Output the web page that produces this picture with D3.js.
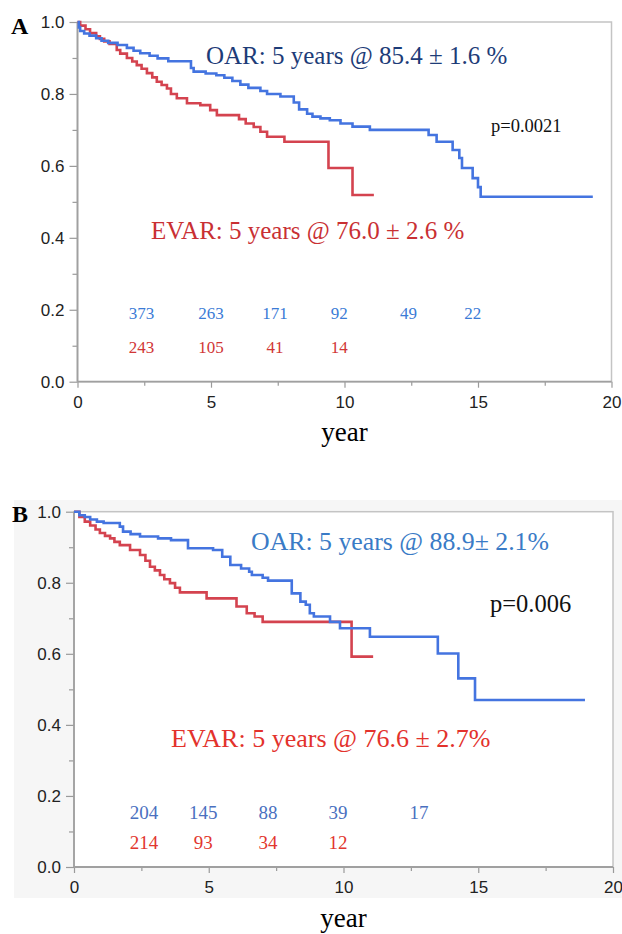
<!DOCTYPE html>
<html>
<head>
<meta charset="utf-8">
<script src="https://cdn.jsdelivr.net/npm/d3@7"></script>
<style>
  body { margin: 0; background: #fff; }
  svg { display: block; }
  .serif { font-family: "Liberation Serif", "Times New Roman", serif; }
</style>
</head>
<body>
<svg id="chart" width="622" height="934"></svg>
<script>
// survival step data: time in years, survival after each step
const oarA_time = [0, 0.05, 0.1, 0.25, 0.45, 0.7, 0.9, 1.15, 1.5, 1.85, 2.1, 2.35, 2.7, 3.0, 3.4, 4.25, 4.35, 4.8, 5.2, 5.5, 5.8, 6.1, 6.4, 6.85, 7.1, 7.6, 8.1, 8.3, 8.6, 8.8, 9.1, 9.45, 9.85, 10.3, 10.95, 13.15, 13.45, 14.05, 14.3, 14.4, 14.8, 15.0, 15.1, 19.3]
const oarA_surv = [1.0, 0.985, 0.975, 0.968, 0.962, 0.955, 0.948, 0.942, 0.936, 0.928, 0.92, 0.913, 0.906, 0.899, 0.891, 0.872, 0.862, 0.857, 0.852, 0.845, 0.836, 0.826, 0.817, 0.808, 0.8, 0.793, 0.776, 0.757, 0.745, 0.737, 0.732, 0.727, 0.718, 0.709, 0.70, 0.686, 0.667, 0.644, 0.622, 0.594, 0.566, 0.541, 0.514, 0.514]

const evarA_time = [0, 0.1, 0.3, 0.47, 0.7, 0.84, 1.0, 1.2, 1.47, 1.6, 1.85, 2.05, 2.22, 2.4, 2.6, 2.8, 2.97, 3.15, 3.35, 3.5, 3.72, 4.1, 4.6, 4.97, 5.22, 6.05, 6.3, 6.6, 6.85, 7.1, 7.75, 9.4, 10.3, 11.1]
const evarA_surv = [1.0, 0.99, 0.98, 0.969, 0.96, 0.953, 0.946, 0.939, 0.922, 0.912, 0.9, 0.89, 0.88, 0.87, 0.858, 0.846, 0.834, 0.825, 0.815, 0.8, 0.788, 0.774, 0.769, 0.755, 0.741, 0.73, 0.718, 0.708, 0.695, 0.681, 0.667, 0.594, 0.519, 0.519]

const oarB_time = [0, 0.2, 0.4, 0.6, 0.85, 1.1, 1.7, 1.82, 2.1, 2.45, 3.12, 3.6, 4.23, 5.16, 5.5, 5.8, 6.2, 6.5, 6.6, 7.0, 7.2, 8.08, 8.4, 8.6, 8.75, 8.9, 9.5, 9.87, 10.98, 13.5, 14.26, 14.88, 18.96]
const oarB_surv = [1.0, 0.99, 0.985, 0.978, 0.972, 0.968, 0.958, 0.944, 0.937, 0.93, 0.925, 0.92, 0.897, 0.892, 0.873, 0.85, 0.84, 0.831, 0.822, 0.814, 0.806, 0.77, 0.747, 0.738, 0.714, 0.705, 0.69, 0.672, 0.648, 0.601, 0.531, 0.47, 0.47]

const evarB_time = [0, 0.2, 0.4, 0.6, 0.8, 0.96, 1.15, 1.34, 1.5, 1.7, 2.08, 2.45, 2.65, 2.82, 3.0, 3.19, 3.35, 3.56, 3.75, 3.93, 4.92, 6.03, 6.41, 6.7, 7.0, 10.3, 11.1]
const evarB_surv = [1.0, 0.985, 0.972, 0.961, 0.95, 0.94, 0.932, 0.925, 0.915, 0.906, 0.892, 0.878, 0.862, 0.845, 0.835, 0.822, 0.81, 0.799, 0.786, 0.773, 0.756, 0.733, 0.714, 0.705, 0.69, 0.592, 0.592]

// numbers at risk and where they sit on the time axis
const riskA_time = [2.4, 5.0, 7.4, 9.8, 12.4, 14.8]
const riskA_oar = [373, 263, 171, 92, 49, 22]
const riskA_evar = [243, 105, 41, 14]
const riskB_time = [2.6, 4.8, 7.2, 9.8, 12.8]
const riskB_oar = [204, 145, 88, 39, 17]
const riskB_evar = [214, 93, 34, 12]

const xTicks = [0, 5, 10, 15, 20]
const xMinor = [2.5, 7.5, 12.5, 17.5]
const yTicks = [0, 0.2, 0.4, 0.6, 0.8, 1.0]
const yMinor = [0.1, 0.3, 0.5, 0.7, 0.9]

const panelA = {
    letter: "A", box: { left: 77.5, right: 611.5, top: 22, bottom: 381.7 },
    oar: [oarA_time, oarA_surv], evar: [evarA_time, evarA_surv],
    riskT: riskA_time, riskOar: riskA_oar, riskEvar: riskA_evar,
    riskRows: [0.19, 0.095], riskSize: 17, riskBlue: "#3b7bd6", riskRed: "#d13636",
    oarText: "OAR: 5 years @ 85.4 \u00b1 1.6 %", oarPos: [206, 64], oarColor: "#1d3c78", oarSize: 25,
    evarText: "EVAR: 5 years @ 76.0 \u00b1 2.6 %", evarPos: [151, 239], evarColor: "#c93033", evarSize: 25,
    pText: "p=0.0021", pPos: [491, 131.5], pSize: 18.5,
    yearY: 441, letterPos: [11, 33.5]
}
const panelB = {
    letter: "B", box: { left: 74, right: 613, top: 511.7, bottom: 867 },
    oar: [oarB_time, oarB_surv], evar: [evarB_time, evarB_surv],
    riskT: riskB_time, riskOar: riskB_oar, riskEvar: riskB_evar,
    riskRows: [0.152, 0.07], riskSize: 19, riskBlue: "#4a70bf", riskRed: "#e2362e",
    oarText: "OAR: 5 years @ 88.9\u00b1 2.1%", oarPos: [251, 550], oarColor: "#3a7bc6", oarSize: 25.8,
    evarText: "EVAR: 5 years @ 76.6 \u00b1 2.7%", evarPos: [171, 746.5], evarColor: "#e3322c", evarSize: 26,
    pText: "p=0.006", pPos: [490, 611.5], pSize: 24.5,
    yearY: 926.5, letterPos: [12, 521.5]
}

const svg = d3.select("#chart")
// faint grey backdrop behind panel B
svg.append("rect").attr("x", 14).attr("y", 500).attr("width", 608).attr("height", 398).attr("fill", "#f6f6f6")

const drawPanel = (p) => {
    const g = svg.append("g")
    const x = d3.scaleLinear().domain([0, 20]).range([p.box.left, p.box.right])
    const y = d3.scaleLinear().domain([0, 1]).range([p.box.bottom, p.box.top])

    g.append("rect")
        .attr("x", p.box.left).attr("y", p.box.top)
        .attr("width", p.box.right - p.box.left).attr("height", p.box.bottom - p.box.top)
        .attr("fill", "#fff").attr("stroke", "#c4c4c4").attr("stroke-width", 1.5)

    // y axis, major then minor ticks
    const yAxis = g.append("g").attr("transform", `translate(${p.box.left},0)`)
        .call(d3.axisLeft(y).tickValues(yTicks).tickSize(8).tickPadding(5).tickFormat(d3.format(".1f")))
    const yAxisMinor = g.append("g").attr("transform", `translate(${p.box.left},0)`)
        .call(d3.axisLeft(y).tickValues(yMinor).tickSize(5).tickFormat(""))
    // x axis
    const xAxis = g.append("g").attr("transform", `translate(0,${p.box.bottom})`)
        .call(d3.axisBottom(x).tickValues(xTicks).tickSize(6).tickPadding(8).tickFormat(d3.format("d")))
    const xAxisMinor = g.append("g").attr("transform", `translate(0,${p.box.bottom})`)
        .call(d3.axisBottom(x).tickValues(xMinor).tickSize(4).tickFormat(""))
    for (let a of [yAxis, yAxisMinor, xAxis, xAxisMinor]) {
        a.select(".domain").remove()
        a.selectAll(".tick line").attr("stroke", "#9a9a9a").attr("stroke-width", 1.2)
        a.attr("font-family", "'Liberation Sans', Arial, sans-serif").attr("font-size", 17)
        a.selectAll(".tick text").attr("fill", "#222")
    }
    g.append("line").attr("x1", p.box.left).attr("x2", p.box.left).attr("y1", p.box.top).attr("y2", p.box.bottom)
        .attr("stroke", "#a0a0a0").attr("stroke-width", 1.8)
    g.append("line").attr("x1", p.box.left).attr("x2", p.box.right).attr("y1", p.box.bottom).attr("y2", p.box.bottom)
        .attr("stroke", "#a0a0a0").attr("stroke-width", 1.8)

    // survival curves as step lines
    const stepLine = d3.line()
        .x(d => x(d[0]))
        .y(d => y(d[1]))
        .curve(d3.curveStepAfter)
    const curves = [[p.evar, "#d4434f"], [p.oar, "#4474e0"]]
    for (let [series, col] of curves) {
        const pts = series[0].map((t, i) => [t, series[1][i]])
        g.append("path").datum(pts)
            .attr("d", stepLine)
            .attr("fill", "none")
            .attr("stroke", col)
            .attr("stroke-width", 2.6)
    }

    // numbers at risk
    g.selectAll("text.risk-oar").data(p.riskOar).enter().append("text")
        .attr("class", "risk-oar serif")
        .attr("x", (d, i) => x(p.riskT[i]))
        .attr("y", y(p.riskRows[0]))
        .attr("text-anchor", "middle").attr("dominant-baseline", "central")
        .attr("font-size", p.riskSize).attr("fill", p.riskBlue)
        .text(d => d)
    g.selectAll("text.risk-evar").data(p.riskEvar).enter().append("text")
        .attr("class", "risk-evar serif")
        .attr("x", (d, i) => x(p.riskT[i]))
        .attr("y", y(p.riskRows[1]))
        .attr("text-anchor", "middle").attr("dominant-baseline", "central")
        .attr("font-size", p.riskSize).attr("fill", p.riskRed)
        .text(d => d)

    // annotations
    const label = (txt, pos, size, col, weight) => {
        g.append("text").attr("class", "serif")
            .attr("x", pos[0]).attr("y", pos[1])
            .attr("font-size", size).attr("fill", col)
            .attr("font-weight", weight || "normal")
            .text(txt)
    }
    label(p.oarText, p.oarPos, p.oarSize, p.oarColor)
    label(p.evarText, p.evarPos, p.evarSize, p.evarColor)
    label(p.pText, p.pPos, p.pSize, "#111")
    label(p.letter, p.letterPos, 24, "#000", "bold")

    g.append("text").attr("class", "serif")
        .attr("x", x(10)).attr("y", p.yearY)
        .attr("text-anchor", "middle")
        .attr("font-size", 27).attr("fill", "#000")
        .text("year")
}

drawPanel(panelA)
drawPanel(panelB)
</script>
</body>
</html>
